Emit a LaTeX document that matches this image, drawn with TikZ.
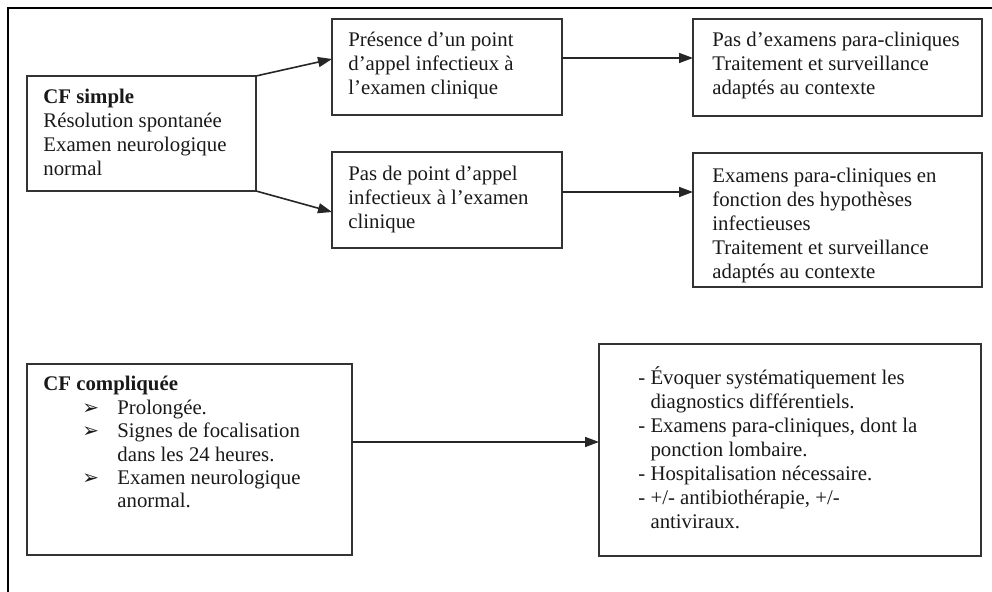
\documentclass[tikz,border=0pt]{standalone}
\usepackage{fontspec}
\setmainfont{Liberation Serif}
\newfontfamily\dejavu{DejaVu Sans}
\usetikzlibrary{arrows.meta}
\newcommand{\arrbullet}{\hspace*{19.5pt}\makebox[17.5pt][l]{{\dejavu\fontsize{10pt}{10pt}\selectfont ➢}}}
\begin{document}
\begin{tikzpicture}[x=0.5pt,y=-0.5pt,
  box/.style={draw=black!80,line width=0.8pt,inner sep=0pt,outer sep=0pt,anchor=north west},
  txt/.style={anchor=base west,align=left,inner sep=0pt,text=black!90,font=\fontsize{10.4pt}{12pt}\selectfont},
  arr/.style={draw=black!85,line width=0.8pt,-{Triangle[length=7pt,width=5pt]}},
  frame/.style={draw=black,line width=1pt}]
\useasboundingbox (0,0) rectangle (992,592);
% outer frame
\coordinate (fbl) at (8,600);
\coordinate (ftl) at (8,8);
\coordinate (ftr) at (1000,8);
\draw[frame] (fbl) -- (ftl) -- (ftr);
% boxes
\node[box,minimum width=114.5pt,minimum height=57.5pt] (A) at (27,76) {};
\node[box,minimum width=115pt,minimum height=48pt] (B) at (332,19) {};
\node[box,minimum width=115pt,minimum height=48pt] (C) at (332,152) {};
\node[box,minimum width=144.5pt,minimum height=48.5pt] (D) at (693,19) {};
\node[box,minimum width=144.5pt,minimum height=67pt] (E) at (693,153) {};
\node[box,minimum width=162.5pt,minimum height=95.5pt] (F) at (27,364) {};
\node[box,minimum width=191pt,minimum height=106pt] (G) at (599,344) {};
% texts (anchored at the baseline of the last line)
\node[txt] (tA) at (43,176) {\textbf{CF simple}\\Résolution spontanée\\Examen neurologique\\normal};
\node[txt] (tB) at (348,95) {Présence d’un point\\d’appel infectieux à\\l’examen clinique};
\node[txt] (tC) at (348,229) {Pas de point d’appel\\infectieux à l’examen\\clinique};
\node[txt] (tD) at (712,95) {Pas d’examens para-cliniques\\Traitement et surveillance\\adaptés au contexte};
\node[txt] (tE) at (712,279) {Examens para-cliniques en\\fonction des hypothèses\\infectieuses\\Traitement et surveillance\\adaptés au contexte};
\node[txt,font=\fontsize{10.4pt}{11.7pt}\selectfont] (tF) at (43,508) {\textbf{CF compliquée}\\
\arrbullet Prolongée.\\
\arrbullet Signes de focalisation\\
\hspace*{37pt}dans les 24 heures.\\
\arrbullet Examen neurologique\\
\hspace*{37pt}anormal.};
\node[txt] (tG) at (638,529) {- Évoquer systématiquement les\\
\hphantom{- }diagnostics différentiels.\\
- Examens para-cliniques, dont la\\
\hphantom{- }ponction lombaire.\\
- Hospitalisation nécessaire.\\
- +/- antibiothérapie, +/-\\
\hphantom{- }antiviraux.};
% connectors
\draw[arr] (A.north east) -- ([yshift=4pt]B.west);
\draw[arr] (A.south east) -- ([yshift=-6pt]C.west);
\draw[arr] ([yshift=4.5pt]B.east) -- ([yshift=4.5pt]B.east -| D.west);
\draw[arr] ([yshift=4pt]C.east) -- ([yshift=4pt]C.east -| E.west);
\draw[arr] ([yshift=8.75pt]F.east) -- ([yshift=8.75pt]F.east -| G.west);
\end{tikzpicture}
\end{document}
